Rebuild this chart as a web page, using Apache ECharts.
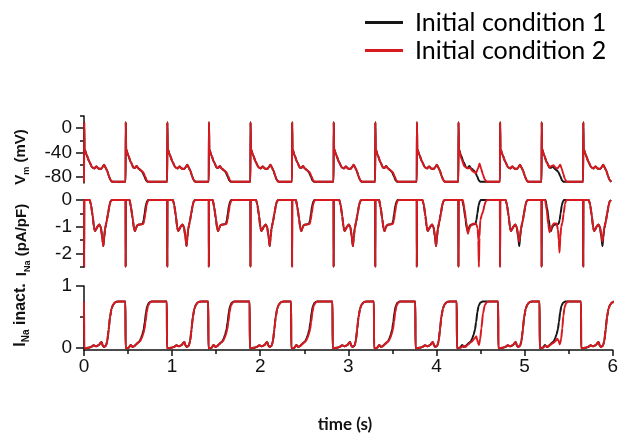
<!DOCTYPE html>
<html>
<head>
<meta charset="utf-8">
<script src="https://cdn.jsdelivr.net/npm/echarts@6/dist/echarts.min.js"></script>
<style>
  html, body { margin: 0; padding: 0; background: #fff; }
  #chart { width: 621px; height: 440px; }
</style>
</head>
<body>
<div id="chart"></div>
<script>
// beat onsets (s) and the shape each beat takes, per initial condition
const beatTimes = [0, 0.47, 0.94, 1.41, 1.88, 2.35, 2.82, 3.29, 3.76, 4.23, 4.70, 5.17, 5.64];
const beatsCond1 = ['A', 'B1', 'A', 'B1', 'A', 'B1', 'A', 'B1', 'A', 'B1', 'A', 'B1', 'A'];
const beatsCond2 = ['A', 'B2', 'A', 'B2', 'A', 'B2', 'A', 'B2', 'A', 'C', 'E', 'D', 'E'];

// beat shapes: [seconds after beat, value]
// membrane potential (mV)
const vmA = [[0, -88], [0.002, 10], [0.006, -34], [0.03, -44], [0.06, -55], [0.09, -64], [0.115, -66], [0.14, -63], [0.16, -66], [0.19, -67], [0.21, -64], [0.226, -60], [0.245, -65], [0.262, -70], [0.28, -78], [0.298, -85], [0.318, -88]];
const vmB1 = [[0, -88], [0.002, 10], [0.006, -34], [0.03, -45], [0.06, -56], [0.09, -65], [0.11, -65], [0.125, -62], [0.145, -66], [0.17, -69], [0.19, -72], [0.212, -79], [0.232, -86], [0.248, -88]];
const vmB2 = [[0, -88], [0.002, 10], [0.006, -34], [0.03, -45], [0.06, -56], [0.09, -65], [0.11, -65], [0.125, -62], [0.145, -66], [0.17, -69], [0.198, -72], [0.22, -79], [0.24, -86], [0.256, -88]];
const vmC = [[0, -88], [0.002, 10], [0.006, -34], [0.034, -50], [0.07, -63], [0.108, -66], [0.13, -65], [0.165, -71], [0.2, -74], [0.222, -66], [0.24, -58], [0.258, -67], [0.278, -76], [0.298, -84], [0.32, -88]];
const vmD = [[0, -88], [0.002, 10], [0.006, -34], [0.03, -45], [0.06, -57], [0.09, -64], [0.115, -62], [0.135, -61], [0.16, -65], [0.18, -66], [0.198, -63], [0.21, -60], [0.228, -66], [0.245, -75], [0.265, -84], [0.283, -88]];

// sodium current (pA/pF)
const inaA = [[0, 0], [0.001, -2.5], [0.003, 0], [0.065, 0], [0.08, -0.2], [0.098, -0.6], [0.112, -1.0], [0.124, -1.16], [0.137, -1.1], [0.15, -1.0], [0.173, -0.91], [0.19, -1.02], [0.205, -1.35], [0.218, -1.72], [0.228, -1.4], [0.238, -1.08], [0.256, -0.8], [0.272, -0.5], [0.288, -0.2], [0.3, -0.05], [0.315, 0]];
const inaE = [[0, 0], [0.001, -2.5], [0.003, 0], [0.065, 0], [0.08, -0.2], [0.098, -0.6], [0.112, -1.0], [0.124, -1.16], [0.137, -1.1], [0.15, -1.0], [0.173, -0.91], [0.19, -1.02], [0.205, -1.3], [0.218, -1.55], [0.228, -1.3], [0.238, -1.05], [0.256, -0.8], [0.272, -0.5], [0.288, -0.2], [0.3, -0.05], [0.315, 0]];
const inaB1 = [[0, 0], [0.001, -2.5], [0.003, 0], [0.045, 0], [0.06, -0.25], [0.08, -0.7], [0.094, -1.05], [0.105, -1.16], [0.118, -1.05], [0.133, -0.94], [0.16, -0.91], [0.192, -0.9], [0.204, -0.75], [0.215, -0.5], [0.229, -0.2], [0.242, -0.05], [0.254, 0]];
const inaB2 = [[0, 0], [0.001, -2.5], [0.003, 0], [0.045, 0], [0.06, -0.25], [0.08, -0.7], [0.094, -1.05], [0.105, -1.16], [0.118, -1.05], [0.133, -0.94], [0.16, -0.91], [0.2, -0.9], [0.212, -0.75], [0.223, -0.5], [0.237, -0.2], [0.25, -0.05], [0.262, 0]];
const inaC = [[0, 0], [0.001, -2.5], [0.003, 0], [0.05, 0], [0.07, -0.35], [0.09, -0.85], [0.108, -1.26], [0.122, -1.1], [0.135, -0.97], [0.165, -0.89], [0.2, -0.89], [0.218, -1.05], [0.226, -1.5], [0.232, -2.5], [0.238, -1.4], [0.248, -0.75], [0.265, -0.55], [0.28, -0.42], [0.295, -0.2], [0.31, -0.05], [0.325, 0]];
const inaD = [[0, 0], [0.001, -2.5], [0.003, 0], [0.04, 0], [0.06, -0.4], [0.075, -0.9], [0.09, -1.2], [0.105, -1.1], [0.12, -0.95], [0.14, -0.88], [0.17, -0.88], [0.185, -1.1], [0.195, -1.5], [0.203, -1.96], [0.212, -1.4], [0.222, -1.0], [0.235, -0.85], [0.25, -0.5], [0.265, -0.15], [0.28, 0]];

// sodium channel inactivation gate
const inactA = [[0, 0.75], [0.002, 0], [0.05, 0.005], [0.08, 0.02], [0.11, 0.045], [0.14, 0.03], [0.17, 0.05], [0.19, 0.09], [0.2, 0.1], [0.212, 0.04], [0.228, 0.02], [0.25, 0.04], [0.265, 0.12], [0.28, 0.3], [0.295, 0.5], [0.312, 0.63], [0.33, 0.7], [0.355, 0.74], [0.39, 0.75]];
const inactB1 = [[0, 0.75], [0.002, 0], [0.035, 0.005], [0.06, 0.05], [0.08, 0.02], [0.1, 0.03], [0.12, 0.06], [0.145, 0.09], [0.16, 0.11], [0.177, 0.16], [0.192, 0.22], [0.207, 0.3], [0.22, 0.42], [0.234, 0.58], [0.248, 0.68], [0.267, 0.73], [0.292, 0.75]];
const inactB2 = [[0, 0.75], [0.002, 0], [0.035, 0.005], [0.06, 0.05], [0.08, 0.02], [0.1, 0.03], [0.12, 0.06], [0.145, 0.09], [0.165, 0.11], [0.185, 0.16], [0.2, 0.22], [0.215, 0.3], [0.228, 0.42], [0.242, 0.58], [0.256, 0.68], [0.275, 0.73], [0.3, 0.75]];
const inactC = [[0, 0.75], [0.002, 0], [0.05, 0.01], [0.08, 0.04], [0.1, 0.02], [0.13, 0.06], [0.165, 0.1], [0.2, 0.15], [0.222, 0.19], [0.238, 0.1], [0.252, 0.05], [0.266, 0.15], [0.28, 0.32], [0.298, 0.56], [0.318, 0.69], [0.34, 0.74], [0.365, 0.75]];
const inactD = [[0, 0.75], [0.002, 0], [0.04, 0.01], [0.07, 0.04], [0.09, 0.02], [0.12, 0.05], [0.15, 0.08], [0.18, 0.11], [0.2, 0.15], [0.215, 0.12], [0.23, 0.06], [0.245, 0.15], [0.258, 0.32], [0.27, 0.52], [0.283, 0.65], [0.3, 0.72], [0.32, 0.75]];

// axis ticks
const xTicks = [0, 1, 2, 3, 4, 5, 6];
const vmLabels = [0, -40, -80];
const vmMinor = [20, -20, -60];
const inaLabels = [0, -1, -2];
const inaMinor = [-0.5, -1.5, -2.5];
const inactLabels = [0, 1];
const inactMinor = [0.5];

const vmShapes = { A: vmA, B1: vmB1, B2: vmB2, C: vmC, D: vmD, E: vmA };
const inaShapes = { A: inaA, B1: inaB1, B2: inaB2, C: inaC, D: inaD, E: inaE };
const inactShapes = { A: inactA, B1: inactB1, B2: inactB2, C: inactC, D: inactD, E: inactA };

// place each beat's shape at its onset
function trace(types, shapes) {
  const out = [];
  types.forEach((type, k) => {
    const t0 = beatTimes[k];
    const next = k + 1 < beatTimes.length ? beatTimes[k + 1] : Infinity;
    shapes[type].forEach(([dt, v]) => {
      if (t0 + dt < next) out.push([+(t0 + dt).toFixed(4), v]);
    });
  });
  return out;
}

const BLACK = '#161616';
const RED = '#d8191f';
const NAME1 = 'Initial condition 1';
const NAME2 = 'Initial condition 2';
const lineCol = '#111';
const tickFont = { fontFamily: 'Liberation Sans', fontSize: 19, color: '#111' };

const grids = [
  { left: 84, right: 6, top: 116, height: 67 },
  { left: 84, right: 6, top: 200, height: 67 },
  { left: 84, right: 6, top: 286, height: 64 },
];

function yPair(grid, min, max, labels, minors) {
  return [
    {
      type: 'value', gridIndex: grid, position: 'left', min: min, max: max,
      axisLine: { show: true, onZero: false, lineStyle: { color: lineCol, width: 1.5 } },
      axisTick: { show: true, length: 8, customValues: labels, lineStyle: { color: lineCol, width: 1.5 } },
      axisLabel: Object.assign({ customValues: labels, margin: 12 }, tickFont),
      splitLine: { show: false },
    },
    {
      type: 'value', gridIndex: grid, position: 'left', min: min, max: max,
      axisLine: { show: false, onZero: false },
      axisTick: { show: true, length: 4, customValues: minors, lineStyle: { color: lineCol, width: 1.5 } },
      axisLabel: { show: false },
      splitLine: { show: false },
    },
  ];
}

function lineSeries(name, color, xi, yi, data) {
  return {
    name: name, type: 'line', xAxisIndex: xi, yAxisIndex: yi,
    data: data, symbol: 'none', clip: true,
    smooth: 0.2, smoothMonotone: 'x',
    color: color,
    lineStyle: { color: color, width: 2, join: 'round' },
  };
}

const subRich = {
  b: { fontFamily: 'Liberation Sans', fontWeight: 'bold', fontSize: 15, lineHeight: 20 },
  s: { fontFamily: 'Liberation Sans', fontWeight: 'bold', fontSize: 9, lineHeight: 12, verticalAlign: 'bottom' },
};
const subRichBig = {
  b: { fontFamily: 'Liberation Sans', fontWeight: 'bold', fontSize: 16, lineHeight: 20 },
  s: { fontFamily: 'Liberation Sans', fontWeight: 'bold', fontSize: 10, lineHeight: 12, verticalAlign: 'bottom' },
};

const chart = echarts.init(document.getElementById('chart'));
const option = {
  animation: false,
  backgroundColor: '#fff',
  grid: grids,
  legend: {
    data: [NAME1, NAME2],
    orient: 'vertical',
    left: 360,
    top: 5,
    icon: 'rect',
    itemWidth: 38,
    itemHeight: 3,
    itemGap: 3,
    textStyle: { fontFamily: 'Lato', fontSize: 25, color: '#000', padding: [0, 0, 0, 7] },
  },
  xAxis: [
    { type: 'value', gridIndex: 0, min: 0, max: 6, show: false },
    { type: 'value', gridIndex: 1, min: 0, max: 6, show: false },
    {
      type: 'value', gridIndex: 2, min: 0, max: 6, interval: 1,
      axisLine: { show: true, onZero: false, lineStyle: { color: lineCol, width: 1.5 } },
      axisTick: { show: true, length: 6, customValues: xTicks, lineStyle: { color: lineCol, width: 1.5 } },
      minorTick: { show: true, splitNumber: 2, length: 4, lineStyle: { color: lineCol, width: 1.5 } },
      axisLabel: Object.assign({ customValues: xTicks, margin: 7 }, tickFont),
      splitLine: { show: false },
      minorSplitLine: { show: false },
    },
  ],
  yAxis: [].concat(
    yPair(0, -90, 20, vmLabels, vmMinor),
    yPair(1, -2.5, 0, inaLabels, inaMinor),
    yPair(2, -0.03, 1, inactLabels, inactMinor)
  ),
  graphic: [
    {
      type: 'text', x: 21, y: 157, rotation: Math.PI / 2,
      style: { text: '{b|V}{s|m}{b| (mV)}', align: 'center', verticalAlign: 'middle', fill: '#111', rich: subRich },
    },
    {
      type: 'text', x: 22, y: 240, rotation: Math.PI / 2,
      style: { text: '{b|I}{s|Na}{b| (pA/pF)}', align: 'center', verticalAlign: 'middle', fill: '#111', rich: subRich },
    },
    {
      type: 'text', x: 21, y: 315, rotation: Math.PI / 2,
      style: { text: '{b|I}{s|Na}{b| inact.}', align: 'center', verticalAlign: 'middle', fill: '#111', rich: subRichBig },
    },
    {
      type: 'text', x: 345, y: 425,
      style: { text: 'time (s)', align: 'center', verticalAlign: 'middle', fill: '#111', font: 'bold 17px Lato' },
    },
  ],
  series: [
    lineSeries(NAME1, BLACK, 0, 0, trace(beatsCond1, vmShapes)),
    lineSeries(NAME2, RED, 0, 0, trace(beatsCond2, vmShapes)),
    lineSeries(NAME1, BLACK, 1, 2, trace(beatsCond1, inaShapes)),
    lineSeries(NAME2, RED, 1, 2, trace(beatsCond2, inaShapes)),
    lineSeries(NAME1, BLACK, 2, 4, trace(beatsCond1, inactShapes)),
    lineSeries(NAME2, RED, 2, 4, trace(beatsCond2, inactShapes)),
  ],
};
chart.setOption(option);
</script>
</body>
</html>
